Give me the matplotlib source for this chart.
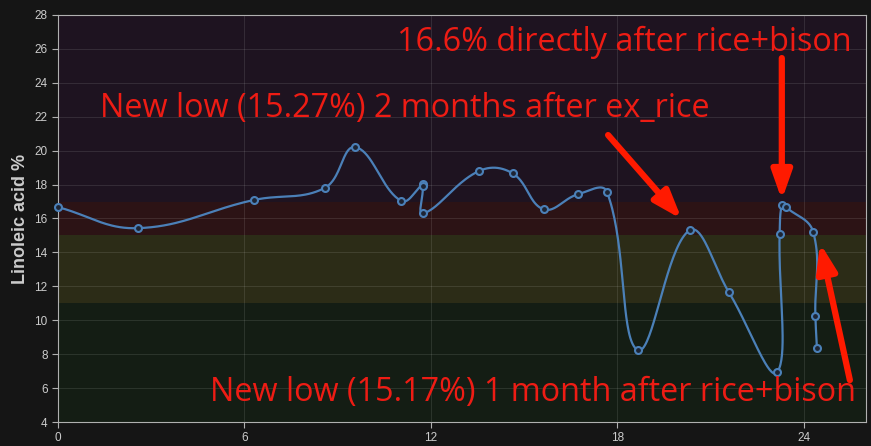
import numpy as np
import matplotlib
matplotlib.use("Agg")
import matplotlib.pyplot as plt

# months since start vs linoleic acid %
months = [0, 2.57, 6.3, 8.59, 9.56, 11.04, 11.75, 11.75, 11.75, 13.56, 14.63, 15.63,
          16.72, 17.66, 18.66, 20.32, 21.59, 23.13, 23.22, 23.29, 23.42, 24.3, 24.37, 24.42]
linoleic = [16.67, 15.43, 17.09, 17.81, 20.21, 17.04, 18.03, 17.91, 16.30, 18.81, 18.66, 16.54,
            17.42, 17.58, 8.24, 15.30, 11.64, 6.92, 15.10, 16.79, 16.67, 15.20, 10.26, 8.35]

# zones (low, high, colour)
zones = [(4, 11, '#141d14'), (11, 15, '#2c2c17'), (15, 17, '#2c1315'), (17, 28, '#1e1320')]

notes = [
    ("16.6% directly after rice+bison", (10.9, 26.4), (23.29, 25.46), (23.29, 17.09)),
    ("New low (15.27%) 2 months after ex_rice", (1.35, 22.5), (17.70, 20.92), (20.07, 15.96)),
    ("New low (15.17%) 1 month after rice+bison", (4.89, 5.76), (25.48, 6.47), (24.52, 14.55)),
]

bg = '#151515'
fig = plt.figure(figsize=(8.71, 4.46), dpi=100, facecolor=bg)
ax = fig.add_axes([0.0666, 0.0538, 0.9277, 0.9126])
ax.set_xlim(0, 26)
ax.set_ylim(4, 28)
ax.set_facecolor(bg)

for lo, hi, c in zones:
    ax.axhspan(lo, hi, color=c, lw=0, zorder=0)

ax.set_xticks([0, 6, 12, 18, 24])
ax.set_yticks(range(4, 29, 2))
for s in ax.spines.values():
    s.set_color('#b0b0b0')
ax.tick_params(colors='#b0b0b0', labelcolor='#cccccc', labelsize=8.5, length=4)
ax.grid(True, color='white', alpha=0.1, lw=0.8, zorder=1)
for lab in ax.get_xticklabels() + ax.get_yticklabels():
    lab.set_family('Liberation Sans')
ax.set_ylabel('Linoleic acid %', color='#cccccc', fontsize=13, fontweight='bold',
              family='Liberation Sans', labelpad=4)

# chart.js style spline (tension 0.4) in pixel space
pts = ax.transData.transform(np.column_stack([months, linoleic]))
n = len(pts)
t = 0.4
cp_prev = np.zeros_like(pts)
cp_next = np.zeros_like(pts)
for i in range(n):
    prev = pts[max(i - 1, 0)]
    cur = pts[i]
    nxt = pts[min(i + 1, n - 1)]
    d01 = np.hypot(*(cur - prev))
    d12 = np.hypot(*(nxt - cur))
    tot = d01 + d12
    s01 = d01 / tot if tot > 0 else 0
    s12 = d12 / tot if tot > 0 else 0
    cp_prev[i] = cur - t * s01 * (nxt - prev)
    cp_next[i] = cur + t * s12 * (nxt - prev)

u = np.linspace(0, 1, 40)[:, None]
curve = []
for i in range(n - 1):
    p0, c1, c2, p3 = pts[i], cp_next[i], cp_prev[i + 1], pts[i + 1]
    seg = (1 - u) ** 3 * p0 + 3 * (1 - u) ** 2 * u * c1 + 3 * (1 - u) * u ** 2 * c2 + u ** 3 * p3
    curve.append(seg)
curve = ax.transData.inverted().transform(np.vstack(curve))

line_c = '#4b80b8'
ax.plot(curve[:, 0], curve[:, 1], color=line_c, lw=1.6, zorder=3, clip_on=False)
ax.plot(months, linoleic, 'o', ms=5, mfc='#1d2433', mec=line_c, mew=1.5, zorder=4, clip_on=False)

for txt, tpos, tail, tip in notes:
    ax.text(tpos[0], tpos[1], txt, color='#ee1c14', fontsize=23.3, family='Open Sans',
            va='center', ha='left', zorder=5)
    ax.annotate('', xy=tip, xytext=tail,
                arrowprops=dict(arrowstyle='-|>,head_length=1.7,head_width=0.6',
                                color='#ff1a00', lw=4.5, shrinkA=0, shrinkB=0),
                zorder=5)

fig.savefig('out.png', dpi=100, facecolor=bg)
